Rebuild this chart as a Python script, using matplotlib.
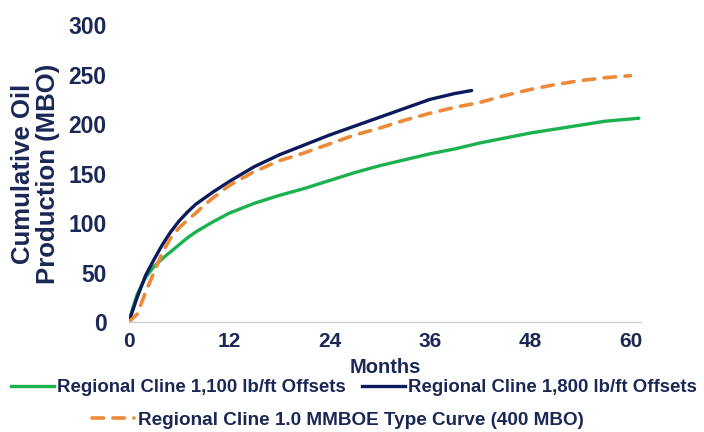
import matplotlib
matplotlib.use("Agg")
import matplotlib.pyplot as plt
from matplotlib.lines import Line2D

# Data (months, cumulative oil MBO)
green_months = [0, 0.5, 1, 2, 3, 4, 5, 6, 7, 8, 9, 10, 12, 15, 18, 21, 24, 27, 30, 33, 36, 39, 42, 45, 48, 51, 54, 57, 61]
green_vals = [0, 15, 28, 45, 56, 64, 71, 78, 85, 91, 96, 101, 110, 120, 128, 135, 143, 151, 158, 164, 170, 175, 181, 186, 191, 195, 199, 203, 206]

navy_months = [0, 1, 2, 3, 4, 5, 6, 7, 8, 9, 10, 12, 15, 18, 21, 24, 27, 30, 33, 36, 39, 41]
navy_vals = [0, 25, 47, 63, 78, 91, 102, 111, 119, 125, 131, 142, 157, 169, 179, 189, 198, 207, 216, 225, 231, 234]

orange_months = [0, 1, 2, 3, 4, 5, 6, 7, 8, 9, 10, 12, 15, 18, 21, 24, 27, 30, 33, 36, 39, 42, 45, 48, 51, 54, 57, 60]
orange_vals = [0, 8, 30, 50, 70, 85, 95, 103, 110, 118, 125, 138, 152, 163, 171, 180, 189, 196, 204, 211, 217, 222, 229, 235, 240, 244, 247, 249]

x_ticks = [0, 12, 24, 36, 48, 60]
y_ticks = [0, 50, 100, 150, 200, 250, 300]
labels = ["Regional Cline 1,100 lb/ft Offsets",
          "Regional Cline 1,800 lb/ft Offsets",
          "Regional Cline 1.0 MMBOE Type Curve (400 MBO)"]

GREEN = "#1CB14F"
NAVY = "#0B1A5C"
ORANGE = "#EC8A3A"
TXT = "#1B2755"
DASH = (0, (3.2, 2.6))

plt.rcParams['font.family'] = ['Liberation Sans', 'DejaVu Sans']
plt.rcParams['font.weight'] = 'bold'

fig = plt.figure(figsize=(7.04, 4.32), dpi=100)
ax = fig.add_axes([0.183, 0.2546, 0.728, 0.687])

ax.plot(green_months, green_vals, color=GREEN, lw=2.4, solid_capstyle='round')
ax.plot(navy_months, navy_vals, color=NAVY, lw=2.4, solid_capstyle='round')
ax.plot(orange_months, orange_vals, color=ORANGE, lw=2.6, ls=DASH, dash_capstyle='round')

ax.set_xlim(0, 61.3)
ax.set_ylim(0, 300)
ax.set_xticks(x_ticks)
ax.set_yticks(y_ticks)
for s in ['top', 'right', 'left']:
    ax.spines[s].set_visible(False)
ax.spines['bottom'].set_color('#D0D0D0')
ax.spines['bottom'].set_linewidth(1.0)
ax.tick_params(axis='both', length=0, colors=TXT)
ax.tick_params(axis='y', labelsize=16.5, pad=16)
ax.tick_params(axis='x', labelsize=15, pad=7)
for lab in ax.get_xticklabels() + ax.get_yticklabels():
    lab.set_fontweight('bold')

ax.set_xlabel("Months", fontsize=14.5, fontweight='bold', color=TXT, labelpad=5)
ax.set_ylabel("Cumulative Oil\nProduction (MBO)", fontsize=18.5, fontweight='bold',
              color=TXT, labelpad=6, linespacing=1.05)

h1 = [Line2D([], [], color=GREEN, lw=2.4), Line2D([], [], color=NAVY, lw=2.4)]
h2 = [Line2D([], [], color=ORANGE, lw=2.6, ls=DASH, dash_capstyle='round')]
leg1 = fig.legend(h1, labels[:2], loc='center', bbox_to_anchor=(0.503, 0.102), ncol=2,
                  frameon=False, fontsize=13.4, handlelength=2.3, handletextpad=0.15,
                  columnspacing=0.9, labelcolor=TXT)
leg2 = fig.legend(h2, labels[2:], loc='center', bbox_to_anchor=(0.48, 0.028), ncol=1,
                  frameon=False, fontsize=13.6, handlelength=2.2, handletextpad=0.2,
                  labelcolor=TXT)
for lg in (leg1, leg2):
    for t in lg.get_texts():
        t.set_fontweight('bold')

fig.savefig("out.png", dpi=100)
